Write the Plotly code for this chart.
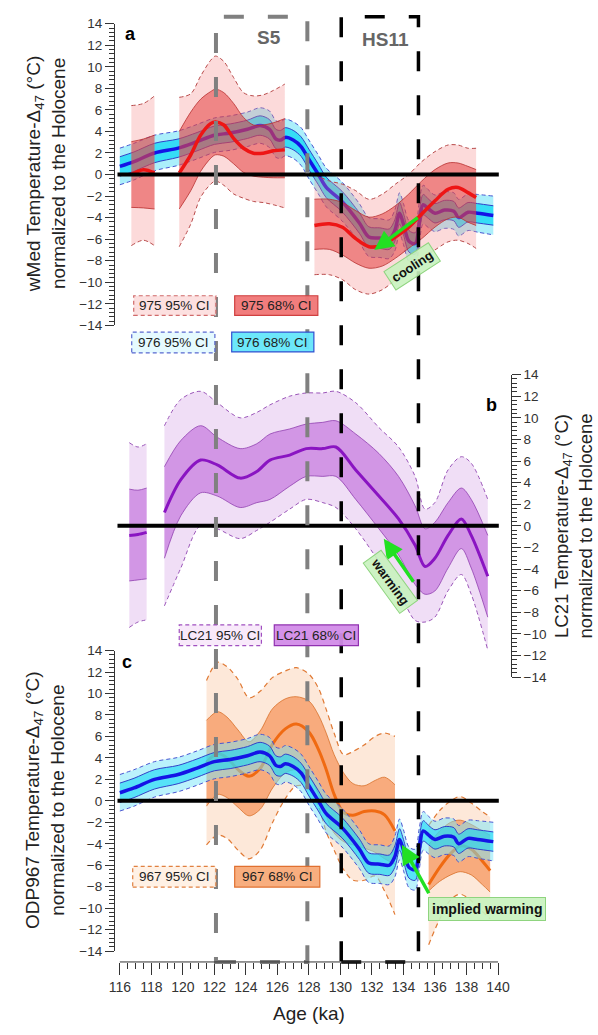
import plotly.graph_objects as go
import numpy as np

W, H = 598, 1035
def px(x): return x / W
def py(y): return 1 - y / H

# ---------------- DATA ----------------
AGE_TICKS = list(range(116, 141, 2))
TEMP_TICKS = list(range(-14, 15, 2))

# 976 (blue) - shown in panels a and c
B_AGE = [116.0, 116.9, 118.2, 119.7, 120.9, 122.0, 123.0, 124.1, 124.9, 125.5, 125.9, 126.2, 126.5,
         127.0, 127.5, 128.0, 128.6, 129.1, 130.1, 131.2, 131.8, 132.5, 133.1, 133.45, 133.75, 134.0,
         134.35, 134.75, 135.0, 135.25, 135.6, 136.0, 136.6, 137.2, 137.5, 138.1, 138.7, 139.7]
B_MEAN = [0.75, 1.2, 2.0, 2.45, 3.05, 3.65, 3.85, 4.2, 4.55, 4.2, 3.3, 3.2, 3.45,
          3.2, 2.6, 1.4, 0.0, -1.2, -2.5, -4.5, -5.8, -5.9, -6.0, -5.2, -3.6, -4.6,
          -6.2, -6.4, -4.5, -2.8, -3.2, -3.6, -3.3, -3.4, -4.0, -3.5, -3.6, -3.8]
B_HW68 = [0.9, 0.9, 0.9, 0.85, 0.85, 0.85, 0.85, 0.85, 0.9, 0.9, 0.9, 0.9, 0.9,
          0.9, 0.9, 0.95, 0.95, 0.95, 0.95, 0.95, 0.95, 0.95, 0.95, 1.0, 1.0, 1.0,
          1.0, 1.0, 1.0, 0.95, 0.9, 0.9, 0.9, 0.9, 0.9, 0.9, 0.9, 0.9]
B_HW95 = [1.7, 1.7, 1.65, 1.6, 1.6, 1.6, 1.6, 1.6, 1.65, 1.7, 1.7, 1.7, 1.7,
          1.7, 1.75, 1.8, 1.8, 1.8, 1.8, 1.8, 1.8, 1.8, 1.8, 1.9, 1.9, 1.9,
          1.9, 1.9, 1.9, 1.8, 1.75, 1.7, 1.7, 1.7, 1.7, 1.7, 1.75, 1.8]

# 975 (red) - panel a, three segments
R_AGE = [[116.73, 117.5, 118.2],
         [119.77, 120.5, 121.13, 121.76, 122.07, 122.6, 123.22, 123.85, 124.48, 125.1, 125.73, 126.47],
         [128.35, 129.3, 130.13, 130.97, 131.81, 132.65, 133.48, 134.32, 135.16, 136.0, 136.83, 137.46, 138.09, 138.61]]
R_MEAN = [[0.0, 0.45, 0.15],
          [0.15, 1.83, 3.66, 4.73, 4.88, 4.6, 3.35, 2.44, 1.98, 1.98, 2.2, 2.29],
          [-4.73, -4.57, -4.9, -5.95, -6.7, -6.55, -5.8, -4.9, -3.66, -2.44, -1.37, -1.2, -1.68, -2.13]]
R_HI68 = [[3.05, 3.3, 3.66],
          [4.0, 5.8, 7.0, 7.7, 7.93, 7.6, 6.6, 5.3, 4.6, 4.6, 4.8, 5.2],
          [-2.29, -2.29, -2.6, -3.35, -3.96, -3.66, -2.9, -1.83, -0.6, 0.46, 1.07, 1.07, 0.76, 0.46]]
R_LO68 = [[-3.05, -3.1, -3.2],
          [-3.2, -1.5, 0.3, 1.5, 1.83, 1.7, 1.0, 0.2, -0.15, -0.25, -0.3, -0.3],
          [-6.95, -6.95, -7.47, -8.23, -8.7, -8.5, -7.78, -6.86, -5.95, -4.88, -4.1, -3.96, -4.42, -4.73]]
R_HI95 = [[6.4, 6.6, 7.3],
          [7.17, 7.5, 9.15, 10.6, 11.0, 10.5, 9.0, 7.6, 7.3, 7.4, 7.8, 8.4],
          [0.0, -0.6, -0.9, -1.5, -2.3, -1.83, -0.9, 0.0, 1.2, 2.13, 2.74, 2.74, 2.44, 2.44]]
R_LO95 = [[-6.6, -6.1, -6.6],
          [-6.7, -4.6, -2.1, -0.9, -0.6, -1.0, -1.8, -2.2, -2.5, -2.6, -2.8, -3.1],
          [-9.3, -9.3, -9.76, -10.7, -11.1, -10.7, -9.76, -8.54, -7.78, -7.0, -6.25, -6.1, -6.4, -6.86]]

# LC21 (purple) - panel b, two segments
P_AGE = [[116.6, 117.15, 117.7],
         [118.83, 119.87, 121.13, 122.18, 123.64, 124.69, 125.53, 126.78, 127.83, 128.88, 129.71,
          130.97, 132.44, 133.69, 134.74, 135.37, 135.99, 136.83, 137.67, 138.3, 139.35]]
P_MEAN = [[-0.9, -0.8, -0.6],
          [1.24, 4.27, 6.09, 5.64, 4.42, 5.03, 6.09, 6.55, 7.15, 7.15, 7.3,
           5.18, 2.76, 0.64, -1.79, -3.76, -3.0, -0.88, 0.64, -0.88, -4.67]]
P_HI68 = [[3.4, 3.3, 3.5],
          [5.48, 7.9, 9.27, 8.2, 7.15, 7.6, 8.5, 8.97, 9.42, 9.58, 9.73,
           8.5, 6.7, 4.57, 1.85, -0.27, 0.33, 2.15, 3.5, 2.45, -0.88]]
P_LO68 = [[-5.1, -5.0, -4.9],
          [-3.0, 0.94, 3.06, 2.76, 1.7, 2.15, 2.45, 3.67, 4.58, 4.58, 4.58,
           2.45, -0.27, -2.7, -5.43, -6.33, -6.03, -3.9, -2.1, -3.9, -8.45]]
P_HI95 = [[7.7, 7.3, 7.6],
          [9.27, 11.7, 12.45, 11.4, 10.0, 10.5, 11.2, 12.0, 12.3, 12.3, 12.45,
           11.4, 9.1, 7.3, 4.57, 1.55, 2.15, 5.18, 6.4, 5.8, 2.45]]
P_LO95 = [[-9.4, -8.9, -8.7],
          [-7.4, -3.9, 0.03, -0.27, -1.18, -0.42, 0.33, 1.55, 2.45, 2.15, 1.7,
           -0.27, -3.3, -6.0, -8.75, -8.9, -8.45, -6.0, -4.5, -6.33, -11.5]]

# 967 (orange) - panel c, two segments
O_AGE = [[121.5, 122.2, 122.8, 123.5, 124.2, 124.9, 125.7, 126.5, 127.2, 128.0, 128.6, 129.1,
          129.6, 130.2, 130.8, 131.5, 132.2, 132.8, 133.46],
         [135.6, 136.3, 137.0, 137.6, 138.3, 139.0, 139.5]]
O_MEAN = [[3.6, 4.4, 4.0, 2.9, 2.3, 3.0, 5.3, 6.7, 7.15, 6.4, 4.8, 2.9,
           0.6, -1.1, -1.35, -1.0, -0.95, -1.3, -2.8],
          [-7.8, -6.2, -4.9, -4.2, -4.5, -5.6, -6.5]]
O_HI68 = [[7.5, 8.3, 7.8, 6.6, 5.5, 6.5, 8.6, 9.5, 9.7, 9.3, 8.0, 6.3,
           4.3, 2.6, 1.6, 1.4, 1.9, 2.2, 1.5],
          [-4.1, -2.8, -2.0, -1.8, -2.2, -2.8, -3.2]]
O_LO68 = [[-0.5, 0.6, 0.3, -0.6, -1.4, -0.8, 1.2, 2.6, 2.9, 2.3, 0.6, -1.4,
           -3.0, -3.8, -4.1, -4.4, -4.8, -5.4, -5.9],
          [-8.4, -7.5, -6.9, -6.6, -6.9, -7.8, -8.5]]
O_HI95 = [[11.2, 12.9, 12.5, 11.3, 9.6, 10.2, 11.5, 12.1, 12.4, 11.8, 10.5, 8.5,
           6.3, 4.3, 4.6, 5.2, 6.0, 6.3, 6.0],
          [-2.3, -0.9, 0.0, 0.4, -0.2, -1.0, -1.5]]
O_LO95 = [[-4.1, -3.2, -3.5, -4.6, -5.4, -4.6, -2.0, 0.2, 1.4, 1.2, -0.5, -2.9,
           -4.6, -6.4, -7.4, -7.4, -7.0, -8.4, -10.6],
          [-13.4, -11.0, -9.2, -8.7, -9.3, -10.3, -11.0]]

# event windows (ka)
S5_WINDOW = [122.1, 127.9]
HS11_WINDOW = [130.05, 134.95]

# ---------------- FIGURE ----------------
FONT = "Liberation Sans, Arial, sans-serif"
fig = go.Figure()

def band(x, lo, hi, yax, fill, edge, dash, width=1.0):
    fig.add_trace(go.Scatter(x=x, y=lo, yaxis=yax, mode="lines", hoverinfo="skip", showlegend=False,
                             line=dict(color=edge, width=width, dash=dash, shape="spline", smoothing=0.9)))
    fig.add_trace(go.Scatter(x=x, y=hi, yaxis=yax, mode="lines", hoverinfo="skip", showlegend=False,
                             fill="tonexty", fillcolor=fill,
                             line=dict(color=edge, width=width, dash=dash, shape="spline", smoothing=0.9)))

def mline(x, y, yax, color, width):
    fig.add_trace(go.Scatter(x=x, y=y, yaxis=yax, mode="lines", hoverinfo="skip", showlegend=False,
                             line=dict(color=color, width=width, shape="spline", smoothing=0.9)))

b_mean = np.array(B_MEAN); b68 = np.array(B_HW68); b95 = np.array(B_HW95)

def blue_series(yax, fa95, fa68):
    band(B_AGE, b_mean - b95, b_mean + b95, yax, fa95, "#4a55d0", "4px,3px", 1)
    band(B_AGE, b_mean - b68, b_mean + b68, yax, fa68, "#3340c8", "solid", 1)
    mline(B_AGE, B_MEAN, yax, "#1414e6", 3.5)

# Panel a
blue_series("y", "rgba(150,235,250,0.8)", "rgba(40,220,245,0.9)")
for i in range(3):
    band(R_AGE[i], R_LO95[i], R_HI95[i], "y", "rgba(245,140,140,0.32)", "#b84a4a", "4px,3px", 1)
for i in range(3):
    band(R_AGE[i], R_LO68[i], R_HI68[i], "y", "rgba(225,40,40,0.47)", "#b83030", "solid", 0.8)
for i in range(3):
    mline(R_AGE[i], R_MEAN[i], "y", "#ee1515", 3.5)

# Panel b
for i in range(2):
    band(P_AGE[i], P_LO95[i], P_HI95[i], "y2", "rgba(228,195,238,0.55)", "#9a55b8", "4px,3px", 1)
for i in range(2):
    band(P_AGE[i], P_LO68[i], P_HI68[i], "y2", "rgba(196,120,222,0.7)", "#9040b0", "solid", 0.8)
for i in range(2):
    mline(P_AGE[i], P_MEAN[i], "y2", "#8a14c2", 3)

# Panel c
for i in range(2):
    band(O_AGE[i], O_LO95[i], O_HI95[i], "y3", "rgba(252,210,180,0.5)", "#e07a35", "5px,4px", 1.2)
for i in range(2):
    band(O_AGE[i], O_LO68[i], O_HI68[i], "y3", "rgba(245,145,85,0.7)", "#d8702a", "solid", 0.8)
for i in range(2):
    mline(O_AGE[i], O_MEAN[i], "y3", "#f06a12", 3)
blue_series("y3", "rgba(120,230,250,0.5)", "rgba(20,215,245,0.6)")

shapes = []
# zero lines
for yr in ["y", "y2", "y3"]:
    shapes.append(dict(type="line", xref="x", yref=yr, x0=115.85, x1=140.05, y0=0, y1=0,
                       line=dict(color="black", width=4)))
# event windows
shapes.append(dict(type="rect", xref="x", yref="paper", x0=S5_WINDOW[0], x1=S5_WINDOW[1],
                   y0=py(969), y1=py(10), line=dict(color="#808080", width=4, dash="20px,24px")))
shapes.append(dict(type="rect", xref="x", yref="paper", x0=HS11_WINDOW[0], x1=HS11_WINDOW[1],
                   y0=py(969), y1=py(10), line=dict(color="black", width=3.5, dash="20px,24px")))
# x axis line
shapes.append(dict(type="line", xref="x", yref="paper", x0=116, x1=140, y0=py(969), y1=py(969),
                   line=dict(color="#333", width=1)))

annotations = []
def legbox(x0, x1, y0, y1, fill, border, dash, text):
    shapes.append(dict(type="rect", xref="paper", yref="paper", x0=px(x0), x1=px(x1), y0=py(y1), y1=py(y0),
                       fillcolor=fill, line=dict(color=border, width=1.2, dash=dash), layer="above"))
    annotations.append(dict(xref="paper", yref="paper", x=px((x0 + x1) / 2), y=py((y0 + y1) / 2),
                            text=text, showarrow=False, font=dict(size=13.5, color="#222", family=FONT),
                            xanchor="center", yanchor="middle"))

legbox(129, 212, 293, 313, "rgba(252,222,222,0.95)", "#d06a6a", "4px,3px", "975 95% CI")
legbox(231, 315, 293, 313, "rgba(240,118,118,0.95)", "#d04040", "solid", "975 68% CI")
legbox(127, 211, 330, 351, "rgba(228,250,255,0.95)", "#5868d0", "4px,3px", "976 95% CI")
legbox(228, 311, 330, 350, "rgba(100,230,250,0.95)", "#3050d0", "solid", "976 68% CI")
legbox(175, 258, 627, 648, "rgba(248,232,250,0.95)", "#a050c0", "4px,3px", "LC21 95% CI")
legbox(271, 356, 627, 648, "rgba(210,140,232,0.95)", "#9030b0", "solid", "LC21 68% CI")
legbox(128, 212, 872, 893, "rgba(255,240,228,0.95)", "#e08040", "4px,3px", "967 95% CI")
legbox(231, 317, 872, 893, "rgba(248,170,120,0.95)", "#e07030", "solid", "967 68% CI")

def txt(x, y, s, size, color="black", bold=False, angle=0):
    annotations.append(dict(xref="paper", yref="paper", x=px(x), y=py(y),
                            text=f"<b>{s}</b>" if bold else s, showarrow=False, textangle=angle,
                            font=dict(size=size, color=color, family=FONT), xanchor="center", yanchor="middle"))

txt(126, 27, "a", 18, bold=True)
txt(490, 404, "b", 18, bold=True)
txt(122, 665, "c", 18, bold=True)
txt(266, 31, "S5", 19, color="#666", bold=True)
txt(383, 33, "HS11", 19, color="#666", bold=True)

ytitle_a = "wMed Temperature-Δ<sub>47</sub> (°C)<br>normalized to the Holocene"
ytitle_b = "LC21 Temperature-Δ<sub>47</sub> (°C)<br>normalized to the Holocene"
ytitle_c = "ODP967 Temperature-Δ<sub>47</sub> (°C)<br>normalized to the Holocene"
txt(40, 170, ytitle_a, 19, color="#222", angle=-90)
txt(573, 527, ytitle_b, 18.5, color="#222", angle=-90)
txt(40, 805, ytitle_c, 19, color="#222", angle=-90)
txt(306, 1021, "Age (ka)", 19, color="#222")

# green arrows
def arrow(yr, head, tail):
    annotations.append(dict(xref="x", yref=yr, axref="x", ayref=yr, x=head[0], y=head[1],
                            ax=tail[0], ay=tail[1], text="", showarrow=True, arrowhead=2,
                            arrowsize=1.1, arrowwidth=3.5, arrowcolor="#22e022"))

arrow("y", (132.15, -7.0), (135.0, -3.9))
arrow("y2", (132.75, -1.2), (134.7, -5.3))
arrow("y3", (133.9, -4.1), (135.66, -8.75))

def gbox(x, y, s, size, angle):
    annotations.append(dict(xref="paper", yref="paper", x=px(x), y=py(y), text=f"<b>{s}</b>",
                            showarrow=False, textangle=angle, bgcolor="rgba(200,242,190,0.9)",
                            bordercolor="#8fd47f", borderwidth=1, borderpad=3,
                            font=dict(size=size, color="#111", family=FONT),
                            xanchor="center", yanchor="middle"))

gbox(410, 263, "cooling", 13, -33)
gbox(388, 583, "warming", 13, 54)
gbox(486, 915, "implied warming", 14, 0)

yax_common = dict(range=[-14, 14], tickmode="linear", tick0=-14, dtick=2, ticks="outside", ticklen=9,
                  tickwidth=1, tickcolor="#333", showline=True, linecolor="#333", linewidth=1,
                  showgrid=False, zeroline=False, tickfont=dict(size=13.5, color="#333", family=FONT),
                  minor=dict(ticks="outside", ticklen=5, dtick=0.4, tickcolor="#333", showgrid=False),
                  fixedrange=True)

minor_x = [v for v in np.arange(116, 140.01, 0.5).tolist() if abs(v - round(v)) > 0.01 or int(round(v)) % 2 == 1]

fig.update_layout(
    width=W, height=H, margin=dict(l=0, r=0, t=0, b=0),
    paper_bgcolor="white", plot_bgcolor="rgba(0,0,0,0)", showlegend=False,
    font=dict(family=FONT),
    xaxis=dict(domain=[px(110), px(510)], range=[116 - 5 / 15.92, 140 + 13 / 15.92],
               anchor="free", position=py(969), tickmode="array", tickvals=AGE_TICKS,
               ticks="outside", ticklen=12, tickwidth=1, tickcolor="#333", showline=False,
               showgrid=False, zeroline=False, tickfont=dict(size=14, color="#333", family=FONT),
               minor=dict(tickmode="array", tickvals=minor_x, ticks="outside", ticklen=6,
                          tickcolor="#333", showgrid=False)),
    yaxis=dict(domain=[py(323), py(17)], anchor="x", side="left", **yax_common),
    yaxis2=dict(domain=[py(680), py(373)], anchor="x", side="right", **yax_common),
    yaxis3=dict(domain=[py(958), py(653)], anchor="x", side="left", **yax_common),
    shapes=shapes, annotations=annotations,
)

fig.write_html("out.html")
